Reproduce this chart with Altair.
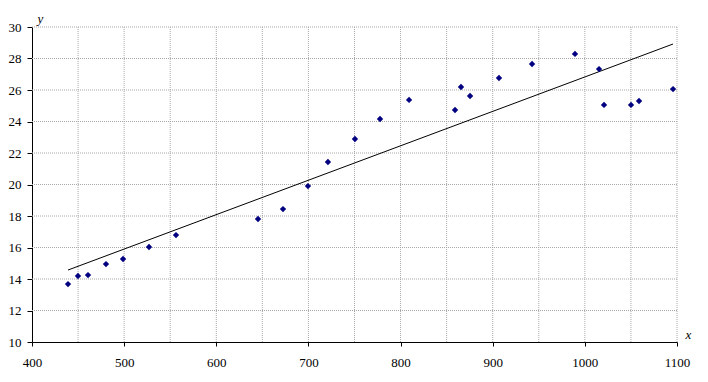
import altair as alt
import pandas as pd

# Data
x_vals = [439.1, 449.9, 460.8, 480.3, 498.8, 527.0, 556.3, 645.3, 672.4, 699.5,
          721.2, 750.5, 777.7, 809.2, 859.1, 865.6, 875.4, 906.8, 942.7, 989.3,
          1015.4, 1020.8, 1050.1, 1058.8, 1095.7]
y_vals = [13.68, 14.19, 14.25, 14.95, 15.27, 16.03, 16.79, 17.81, 18.44, 19.90,
          21.43, 22.89, 24.16, 25.37, 24.73, 26.19, 25.62, 26.76, 27.65, 28.29,
          27.33, 25.05, 25.05, 25.30, 26.06]
trend_x = [439.1, 1095.7]
trend_y = [14.57, 28.92]
x_ticks = [400, 500, 600, 700, 800, 900, 1000, 1100]
y_ticks = [10, 12, 14, 16, 18, 20, 22, 24, 26, 28, 30]
x_grid = [450, 500, 550, 600, 650, 700, 750, 800, 850, 900, 950, 1000, 1050, 1100]
y_grid = [12, 14, 16, 18, 20, 22, 24, 26, 28, 30]

FONT = "Liberation Serif"
GRID_COLOR = "#a8a8a8"

pts = pd.DataFrame({"x": x_vals, "y": y_vals})
trend = pd.DataFrame({"x": trend_x, "y": trend_y})
vg = pd.DataFrame({"x": x_grid})
hg = pd.DataFrame({"y": y_grid})

xs = alt.Scale(domain=[400, 1100], nice=False, zero=False)
ys = alt.Scale(domain=[10, 30], nice=False, zero=False)

x_axis = alt.Axis(values=x_ticks, format="d", grid=False, labelFont=FONT, labelFontSize=13,
                  labelColor="black", tickColor="black", tickSize=4, domainColor="black",
                  labelPadding=10, labelFlush=False, title="x", titleFont=FONT,
                  titleFontSize=13, titleFontStyle="italic", titleFontWeight="normal",
                  titleColor="black", titleAngle=0, titleAlign="left",
                  titleBaseline="alphabetic", titleX=653, titleY=-4)
y_axis = alt.Axis(values=y_ticks, format="d", grid=False, labelFont=FONT, labelFontSize=13,
                  labelColor="black", tickColor="black", tickSize=5, domainColor="black",
                  labelPadding=6, labelFlush=False, title="y", titleFont=FONT,
                  titleFontSize=13, titleFontStyle="italic", titleFontWeight="normal",
                  titleColor="black", titleAngle=0, titleAlign="left",
                  titleBaseline="alphabetic", titleX=5, titleY=-5)

X = alt.X("x:Q", scale=xs, axis=x_axis, title="x")
Y = alt.Y("y:Q", scale=ys, axis=y_axis, title="y")

vgrid = alt.Chart(vg).mark_rule(color=GRID_COLOR, strokeDash=[1, 1], strokeWidth=1).encode(x=X)
hgrid = alt.Chart(hg).mark_rule(color=GRID_COLOR, strokeDash=[1, 1], strokeWidth=1).encode(y=Y)
line = alt.Chart(trend).mark_line(color="black", strokeWidth=1).encode(x=X, y=Y)
points = alt.Chart(pts).mark_point(shape="diamond", filled=True, color="#000080",
                                   size=40, opacity=1).encode(x=X, y=Y)

chart = alt.layer(vgrid, hgrid, line, points).properties(
    width=645, height=315,
    autosize=alt.AutoSizeParams(type="none"),
    padding={"left": 32, "top": 27, "right": 31, "bottom": 40},
    background="white",
).configure_view(stroke=None)

chart.save("out.html", embed_options={"renderer": "svg", "actions": False})
